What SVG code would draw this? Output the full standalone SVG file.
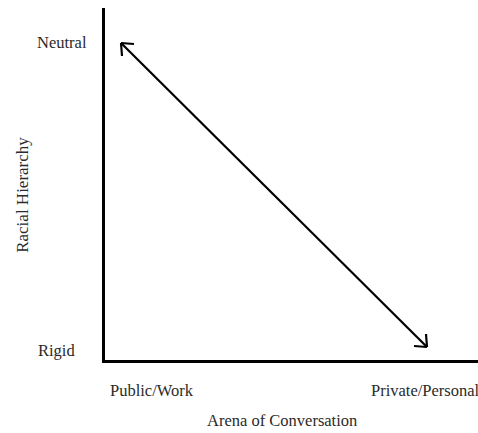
<svg xmlns="http://www.w3.org/2000/svg" width="478" height="433" viewBox="0 0 478 433">
<style>
text{font-family:"Liberation Serif","Times New Roman",serif;fill:#2a2a2a;font-size:16.5px}
.ax{stroke:#000;stroke-width:3;fill:none}
.ar{stroke:#000;stroke-width:2.2;fill:none}
</style>
<rect width="478" height="433" fill="#fff"/>
<g id="axes">
<path class="ax" d="M103.5 8 V361.5 H478"/>
</g>
<g id="labels">
<text id="neutral" x="37" y="48">Neutral</text>
<text id="rigid" x="38" y="356">Rigid</text>
<text id="public" x="110" y="396">Public/Work</text>
<text id="private" x="371" y="396">Private/Personal</text>
<text id="xtitle" x="207" y="426">Arena of Conversation</text>
<text id="ytitle" transform="translate(28 195) rotate(-90)" text-anchor="middle" style="font-size:17px">Racial Hierarchy</text>
</g>
<g id="connectors">
<path class="ar" d="M121 43 L427 347"/>
<path class="ar" d="M121 43 L122 56 M121 43 L134 44"/>
<path class="ar" d="M427 347 L426 334 M427 347 L414 346"/>
</g>
</svg>
